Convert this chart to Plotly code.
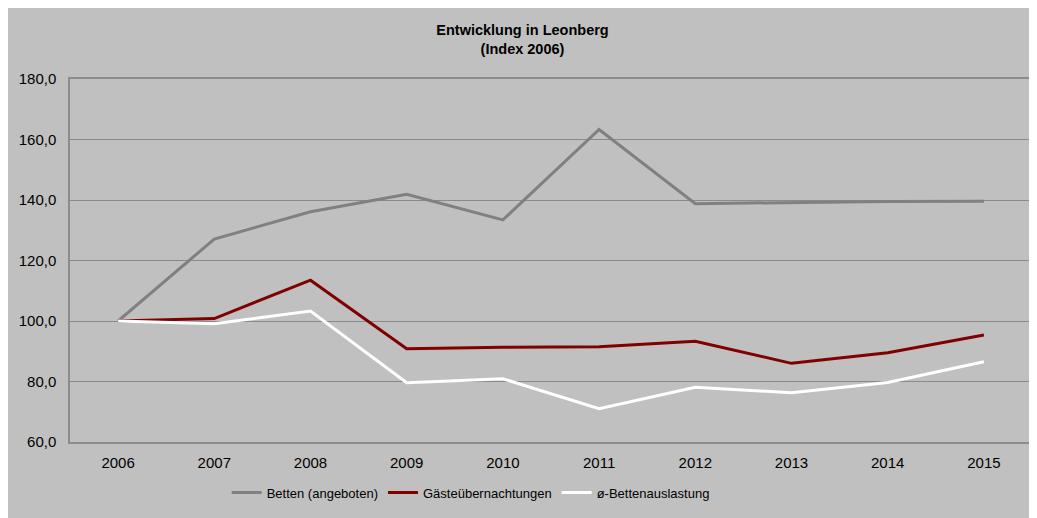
import plotly.graph_objects as go

years = ["2006", "2007", "2008", "2009", "2010", "2011", "2012", "2013", "2014", "2015"]
betten = [100.0, 127.1, 136.1, 141.9, 133.4, 163.3, 138.8, 139.2, 139.5, 139.6]
gaeste = [100.0, 100.8, 113.5, 90.8, 91.3, 91.5, 93.3, 86.0, 89.5, 95.4]
auslastung = [100.0, 99.1, 103.3, 79.6, 80.9, 71.0, 78.1, 76.3, 79.7, 86.5]

names = ["Betten (angeboten)", "Gästeübernachtungen", "ø-Bettenauslastung"]
colors = ["#808080", "#800000", "#ffffff"]
series = [betten, gaeste, auslastung]

fig = go.Figure()
for n, c, s in zip(names, colors, series):
    fig.add_trace(go.Scatter(x=years, y=s, name=n, mode="lines",
                             line=dict(color=c, width=3)))

font = "Liberation Sans, Arial, sans-serif"
fig.update_layout(
    autosize=False,
    width=1029, height=510,
    margin=dict(l=62, r=3, t=71, b=76),
    paper_bgcolor="#c0c0c0",
    plot_bgcolor="#c0c0c0",
    separators=",.",
    font=dict(family=font, size=15, color="#000000"),
    title=dict(text="<b>Entwicklung in Leonberg<br>(Index 2006)</b>",
               x=0.5, xanchor="center", y=0.947, yanchor="middle",
               font=dict(family=font, size=14.5, color="#000000")),
    showlegend=True,
    legend=dict(orientation="h", x=0.4165, xanchor="center", y=-0.098, yanchor="top",
                font=dict(family=font, size=13), bgcolor="rgba(0,0,0,0)",
                itemwidth=30, traceorder="normal"),
    xaxis=dict(type="category", showgrid=False, showline=True, mirror=True,
               linecolor="#8c8c8c", linewidth=1.5, ticks="", ticklabelstandoff=6,
               range=[-0.5, 9.5], tickfont=dict(size=15)),
    yaxis=dict(range=[60, 180], dtick=20, tickformat=".1f", showgrid=True,
               gridcolor="#8a8a8a", gridwidth=1.3, showline=True, mirror=True,
               linecolor="#8c8c8c", linewidth=1.5, ticks="", zeroline=False,
               ticklabelstandoff=9, tickfont=dict(size=15)),
)

fig.write_html("out.html")
